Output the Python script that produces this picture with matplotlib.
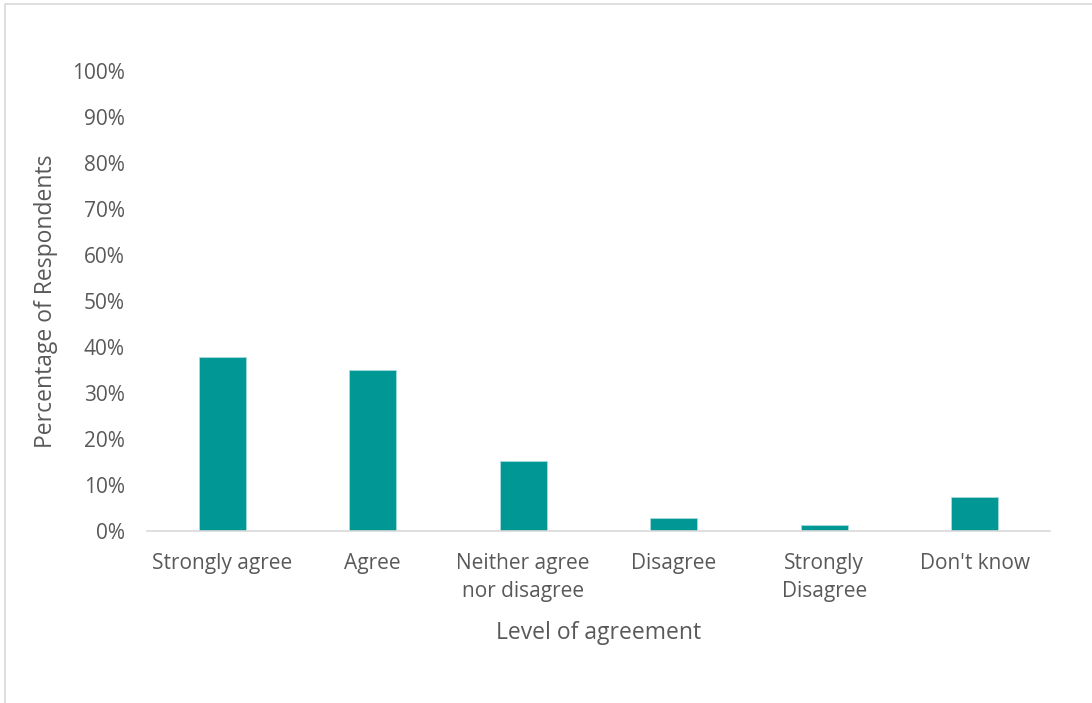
import matplotlib.pyplot as plt
from matplotlib.patches import Rectangle
from matplotlib.ticker import PercentFormatter

categories = ["Strongly agree", "Agree", "Neither agree\nnor disagree",
              "Disagree", "Strongly\nDisagree", "Don't know"]
values = [37.8, 34.9, 15.3, 2.9, 1.3, 7.5]

plt.rcParams['font.family'] = ['Open Sans', 'DejaVu Sans']
txt = "#595959"

fig = plt.figure(figsize=(10.92, 7.03), dpi=100)
ax = fig.add_axes([147 / 1092, 1 - 531 / 703, (1050 - 147) / 1092, (531 - 71) / 703])

ax.bar(range(len(categories)), values, width=0.31, color="#009794",
       edgecolor="#a8dcdc", linewidth=0.6)

ax.set_xlim(-0.5, len(categories) - 0.5)
ax.set_ylim(0, 100)
ax.set_yticks(range(0, 101, 10))
ax.yaxis.set_major_formatter(PercentFormatter(decimals=0))
ax.set_xticks(range(len(categories)))
ax.set_xticklabels(categories, fontsize=15, color=txt, linespacing=1.4, va="top")
ax.tick_params(axis="y", labelsize=15, colors=txt, length=0, pad=16)
ax.tick_params(axis="x", length=0, pad=16)

for s in ["top", "right", "left"]:
    ax.spines[s].set_visible(False)
ax.spines["bottom"].set_color("#d9d9d9")
ax.spines["bottom"].set_linewidth(1.2)

ax.set_xlabel("Level of agreement", fontsize=16.5, color=txt, labelpad=14)
ax.set_ylabel("Percentage of Respondents", fontsize=16.5, color=txt, labelpad=10)

# chart area border
fig.patches.append(Rectangle((5 / 1092, -0.1), 1.2, 1 - 4 / 703 + 0.1,
                             transform=fig.transFigure, fill=False,
                             edgecolor="#d9d9d9", linewidth=1.2))

fig.savefig("out.png", dpi=100)
